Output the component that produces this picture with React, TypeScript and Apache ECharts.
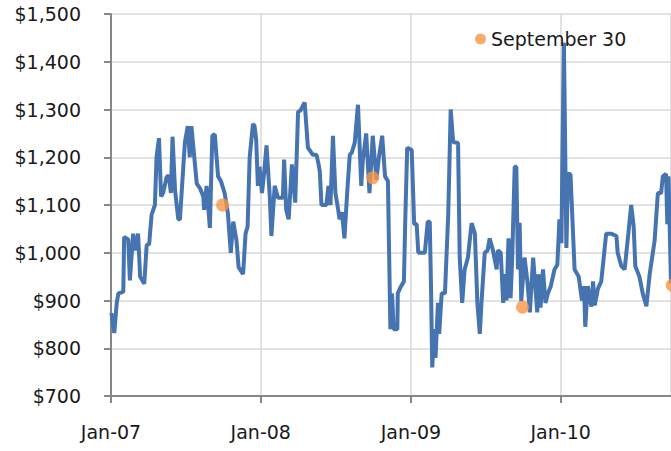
import React, { useEffect, useRef } from "react";
import * as echarts from "echarts";

const priceDates: string[] = [
  "2007-01-02","2007-01-09","2007-01-15","2007-01-19","2007-01-31","2007-02-02","2007-02-12","2007-02-16","2007-02-24","2007-02-28",
  "2007-03-08","2007-03-13","2007-03-23","2007-03-29","2007-04-04","2007-04-10","2007-04-18","2007-04-22","2007-04-28","2007-05-03",
  "2007-05-08","2007-05-17","2007-05-22","2007-05-27","2007-05-31","2007-06-06","2007-06-14","2007-06-18","2007-06-24","2007-06-30",
  "2007-07-07","2007-07-12","2007-07-16","2007-07-29","2007-08-06","2007-08-14","2007-08-16","2007-08-22","2007-08-30","2007-09-05",
  "2007-09-11","2007-09-19","2007-09-26","2007-10-05","2007-10-13","2007-10-20","2007-10-26","2007-11-03","2007-11-08","2007-11-19",
  "2007-11-25","2007-11-30","2007-12-05","2007-12-13","2007-12-17","2007-12-21","2007-12-25","2007-12-29",
  "2008-01-04","2008-01-09","2008-01-15","2008-01-23","2008-01-27","2008-02-04","2008-02-12","2008-02-24","2008-02-27","2008-03-03",
  "2008-03-09","2008-03-17","2008-03-25","2008-04-01","2008-04-07","2008-04-17","2008-04-25","2008-05-07","2008-05-16","2008-05-21",
  "2008-05-24","2008-05-28","2008-06-09","2008-06-14","2008-06-19","2008-06-25","2008-07-01","2008-07-06","2008-07-11","2008-07-17",
  "2008-07-23","2008-07-30","2008-08-05","2008-08-10","2008-08-17","2008-08-25","2008-09-02","2008-09-06","2008-09-14","2008-09-22",
  "2008-09-30","2008-10-09","2008-10-15","2008-10-23","2008-10-30","2008-11-06","2008-11-12","2008-11-16","2008-11-20","2008-11-29",
  "2008-11-30","2008-12-08","2008-12-15","2008-12-18","2008-12-23",
  "2009-01-03","2009-01-09","2009-01-15","2009-01-19","2009-02-04","2009-02-11","2009-02-16","2009-02-19","2009-02-22","2009-02-27",
  "2009-03-02","2009-03-08","2009-03-11","2009-03-17","2009-03-25","2009-04-02","2009-04-08","2009-04-14","2009-04-26","2009-04-30",
  "2009-05-06","2009-05-12","2009-05-20","2009-05-29","2009-06-06","2009-06-12","2009-06-18","2009-06-22","2009-06-30","2009-07-07",
  "2009-07-12","2009-07-20","2009-07-29","2009-08-01","2009-08-08","2009-08-14","2009-08-18","2009-08-22","2009-08-27","2009-09-01",
  "2009-09-05","2009-09-11","2009-09-15","2009-09-19","2009-09-23","2009-09-27","2009-10-05","2009-10-12","2009-10-18","2009-10-26",
  "2009-11-05","2009-11-08","2009-11-13","2009-11-19","2009-11-25","2009-12-01","2009-12-08","2009-12-17","2009-12-24","2009-12-29",
  "2010-01-03","2010-01-05","2010-01-09","2010-01-15","2010-01-19","2010-01-25","2010-02-04","2010-02-14","2010-02-22","2010-02-27",
  "2010-03-02","2010-03-08","2010-03-17","2010-03-21","2010-03-25","2010-04-02","2010-04-10","2010-04-22","2010-05-04","2010-05-17",
  "2010-05-20","2010-05-29","2010-06-06","2010-06-15","2010-06-22","2010-06-28","2010-07-02","2010-07-12","2010-07-20","2010-07-29",
  "2010-08-06","2010-08-18","2010-08-26","2010-09-03","2010-09-07","2010-09-15","2010-09-18","2010-09-21","2010-09-27",
];

const priceValues: number[] = [
  874,832,895,915,918,1033,1028,942,1040,1005,
  1040,950,935,1016,1018,1080,1100,1200,1240,1118,
  1125,1160,1160,1125,1243,1132,1070,1070,1150,1230,
  1265,1200,1265,1145,1135,1118,1090,1140,1052,1245,
  1248,1160,1150,1125,1082,1000,1065,1025,970,955,
  1040,1055,1200,1270,1265,1235,1140,1180,
  1125,1165,1225,1118,1035,1140,1115,1115,1195,1090,
  1070,1185,1105,1295,1298,1315,1220,1205,1205,1185,
  1170,1100,1100,1140,1100,1245,1125,1100,1070,1085,
  1030,1130,1205,1210,1230,1310,1140,1195,1250,1125,
  1245,1153,1200,1245,1160,1150,840,915,840,840,
  915,930,940,1060,1220,
  1215,1060,1060,1000,1000,1065,1065,930,760,840,
  780,895,830,915,915,1080,1300,1232,1230,990,
  895,965,990,1062,1040,895,830,895,1000,1005,
  1030,1005,965,1005,1000,895,955,900,1030,905,
  990,1180,1180,965,1063,898,990,940,875,990,
  875,955,885,965,895,915,930,965,975,1070,
  1020,1180,1440,1010,1165,1165,965,950,900,930,
  845,930,887,940,890,925,940,1040,1040,1035,
  1000,972,965,1040,1100,1055,972,950,915,888,
  955,1025,1125,1125,1160,1165,1060,1160,935,
];

const sept30Dates: string[] = ["2007-09-30", "2008-09-30", "2009-09-30", "2010-09-30"];
const sept30Values: number[] = [1100, 1157, 886, 932];

const yTicks = { min: 700, max: 1500, interval: 100 };
const xRange = { min: "2007-01-01", max: "2010-09-27" };

const FONT = "DejaVu Sans";

export default function App() {
  const ref = useRef<HTMLDivElement>(null);
  useEffect(() => {
    if (!ref.current) return;
    const chart = echarts.init(ref.current, null, { renderer: "svg" });
    const lineData = priceDates.map((d, i) => [d, priceValues[i]]);
    const dotData = sept30Dates.map((d, i) => [d, sept30Values[i]]);
    const YEAR = 365 * 24 * 3600 * 1000;
    chart.setOption({
      animation: false,
      backgroundColor: "#ffffff",
      grid: { left: 111, right: 0, top: 14, bottom: 55, containLabel: false },
      legend: {
        data: [{ name: "September 30", icon: "circle" }],
        left: 470,
        top: 24,
        itemWidth: 11,
        itemHeight: 11,
        textStyle: { fontFamily: FONT, fontSize: 19, color: "#1a1a1a", lineHeight: 20 },
      },
      xAxis: {
        type: "time",
        min: xRange.min,
        max: xRange.max,
        minInterval: YEAR,
        maxInterval: YEAR,
        axisLine: { show: true, lineStyle: { color: "#878787", width: 2 } },
        axisTick: { show: true, length: 7, lineStyle: { color: "#878787", width: 2 } },
        axisLabel: {
          margin: 26,
          fontFamily: FONT,
          fontSize: 19,
          color: "#1a1a1a",
          hideOverlap: false,
          showMinLabel: true,
          formatter: (val: number) => {
            const d = new Date(val);
            if (d.getMonth() === 0 && d.getDate() === 1) {
              return "Jan-" + String(d.getFullYear()).slice(2);
            }
            return "";
          },
        },
        splitLine: { show: true, lineStyle: { color: "#d9d9d9", width: 1.5 } },
      },
      yAxis: {
        type: "value",
        min: yTicks.min,
        max: yTicks.max,
        interval: yTicks.interval,
        axisLine: { show: true, lineStyle: { color: "#878787", width: 2 } },
        axisTick: { show: true, length: 7, lineStyle: { color: "#878787", width: 2 } },
        axisLabel: {
          margin: 30,
          fontFamily: FONT,
          fontSize: 19,
          color: "#1a1a1a",
          formatter: (v: number) => "$" + v.toLocaleString("en-US"),
        },
        splitLine: { show: true, lineStyle: { color: "#d9d9d9", width: 1.5 } },
      },
      series: [
        {
          name: "Price",
          type: "line",
          data: lineData,
          showSymbol: false,
          symbol: "none",
          lineStyle: { color: "#4674b0", width: 4 },
          itemStyle: { color: "#4674b0" },
          z: 2,
        },
        {
          name: "September 30",
          type: "scatter",
          data: dotData,
          symbol: "circle",
          symbolSize: 13,
          clip: false,
          itemStyle: { color: "#f79646" },
          z: 3,
        },
      ],
    });
    return () => chart.dispose();
  }, []);
  return (
    <div
      ref={ref}
      style={{ position: "fixed", left: 0, top: 0, width: 671, height: 451 }}
    />
  );
}
